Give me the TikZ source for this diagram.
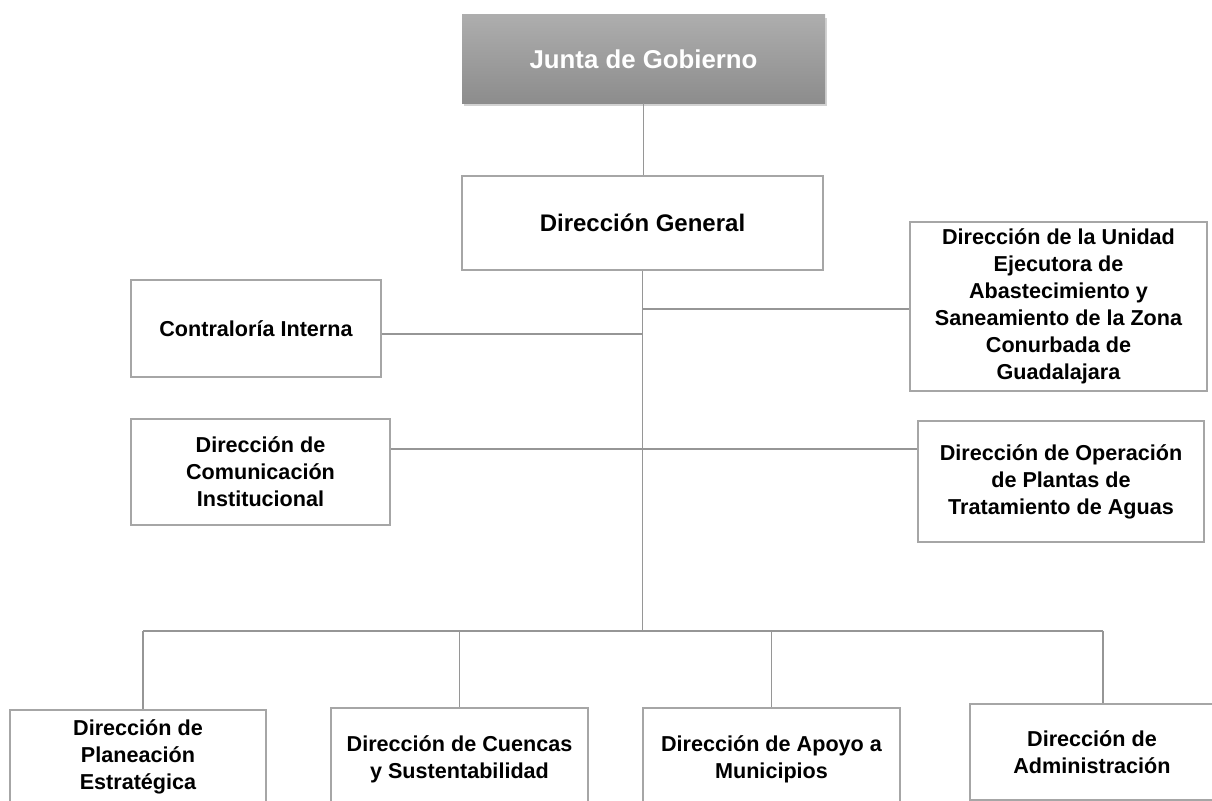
\documentclass[tikz,border=0pt]{standalone}
\usepackage{fontspec}
\setmainfont{Liberation Sans}
\usetikzlibrary{shadows}
\definecolor{boxgray}{HTML}{A6A6A6}
\definecolor{linegray}{HTML}{969696}
\begin{document}
\begin{tikzpicture}[x=1pt,y=-1pt,
  box/.style={draw=boxgray, line width=1.6pt, fill=white, align=center,
    font=\bfseries\fontsize{21.6}{27}\selectfont, inner sep=0pt},
  topbox/.style={draw=none, top color=black!32, bottom color=black!45,
    align=center, text=white, font=\bfseries\fontsize{25.8}{30}\selectfont,
    drop shadow={opacity=0.35, shadow xshift=2pt, shadow yshift=-3pt}},
  conn/.style={draw=linegray, line width=1.3pt}]
\useasboundingbox (0,0) rectangle (1212,800);
\clip (0,0) rectangle (1212,800);
\fill[white] (0,0) rectangle (1212,800);

\node[topbox, minimum width=363pt, minimum height=88pt] (junta) at (643.5,59) {Junta de Gobierno};
\node[box, minimum width=361pt, minimum height=94pt, font=\bfseries\fontsize{24}{28}\selectfont] (general) at (642.5,223) {Dirección General};
\node[box, minimum width=250pt, minimum height=97pt] (contra) at (256,328.5) {Contraloría Interna};
\node[box, minimum width=259pt, minimum height=106pt] (comun) at (260.5,472) {Dirección de\\Comunicación\\Institucional};
\node[box, minimum width=297pt, minimum height=169pt] (unidad) at (1058.5,306.5) {Dirección de la Unidad\\Ejecutora de\\Abastecimiento y\\Saneamiento de la Zona\\Conurbada de\\Guadalajara};
\node[box, minimum width=286pt, minimum height=121pt] (operacion) at (1061,481.5) {Dirección de Operación\\de Plantas de\\Tratamiento de Aguas};
\node[box, minimum width=256pt, minimum height=94pt] (planeacion) at (138,757) {Dirección de\\Planeación\\Estratégica};
\node[box, minimum width=257pt, minimum height=102pt] (cuencas) at (459.5,759) {Dirección de Cuencas\\y Sustentabilidad};
\node[box, minimum width=257pt, minimum height=102pt] (apoyo) at (771.5,759) {Dirección de Apoyo a\\Municipios};
\node[box, minimum width=244pt, minimum height=96pt] (admin) at (1092,752) {Dirección de\\Administración};

\coordinate (tbot) at (642,631);

\draw[conn] (junta.south) -- (junta.south |- general.north);
\draw[conn] (general.south) -- (general.south |- tbot);
\draw[conn] (contra.east |- 0,334) -- (general.south |- 0,334);
\draw[conn] (general.south |- 0,309) -- (unidad.west |- 0,309);
\draw[conn] (comun.east |- 0,449) -- (operacion.west |- 0,449);
\draw[conn] (143,0 |- tbot) -- (1103,0 |- tbot);
\draw[conn] (143,0 |- tbot) -- (planeacion.north -| 143,0);
\draw[conn] (cuencas.north |- tbot) -- (cuencas.north);
\draw[conn] (apoyo.north |- tbot) -- (apoyo.north);
\draw[conn] (1103,0 |- tbot) -- (admin.north -| 1103,0);
\end{tikzpicture}
\end{document}
